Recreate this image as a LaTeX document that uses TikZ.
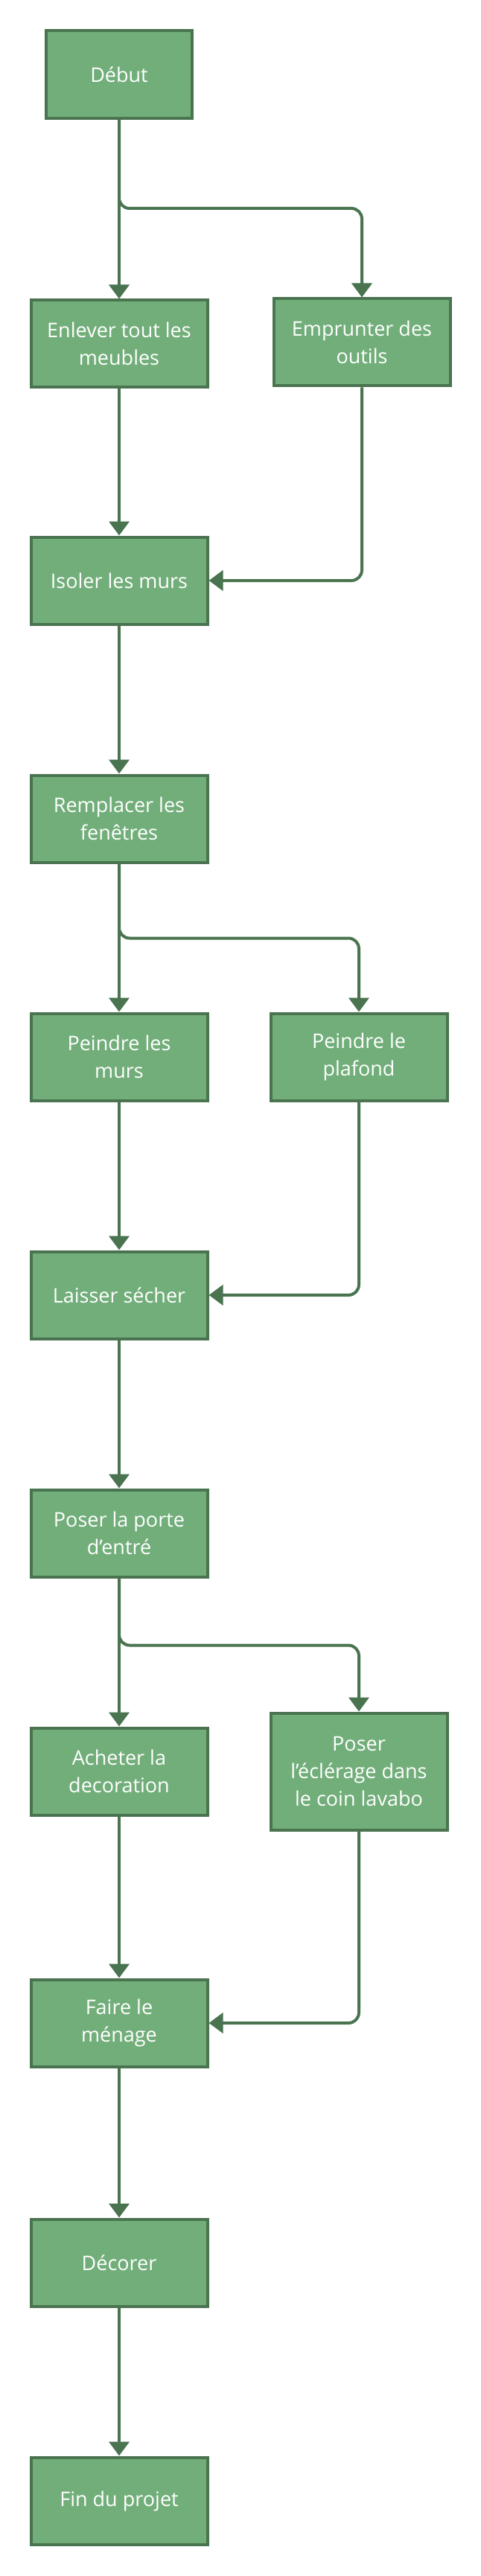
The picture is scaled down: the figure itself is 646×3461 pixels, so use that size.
\documentclass[tikz,border=0pt]{standalone}
\usepackage{fontspec}
\setmainfont{Open Sans}
\usetikzlibrary{arrows.meta}
\definecolor{vertfond}{HTML}{72AE7A}
\definecolor{vertbord}{HTML}{4A7450}
\tikzset{
  task/.style={draw=vertbord, fill=vertfond, line width=2pt, text=white, align=center,
    minimum width=118.5pt, minimum height=58.5pt, inner sep=0pt,
    font=\fontsize{13.5pt}{18.3pt}\selectfont},
  link/.style={draw=vertbord, line width=2pt, rounded corners=7pt,
    -{Triangle[length=9.5pt,width=13.5pt]}}
}
\begin{document}
\begin{tikzpicture}[x=0.5pt,y=-0.5pt]
   \useasboundingbox (0,0) rectangle (646,3461);

   \node[task, minimum width=98pt, minimum height=59pt] (debut) at (160,100) {Début};
   \node[task] (enlever) at (160,462) {Enlever tout les\\meubles};
   \node[task] (emprunter) at (486,460) {Emprunter des\\outils};
   \node[task] (isoler) at (160,780) {Isoler les murs};
   \node[task] (remplacer) at (160,1100) {Remplacer les\\fenêtres};
   \node[task] (murs) at (160,1420) {Peindre les\\murs};
   \node[task] (plafond) at (482,1420) {Peindre le\\plafond};
   \node[task] (secher) at (160,1740) {Laisser sécher};
   \node[task] (porte) at (160,2060) {Poser la porte\\d’entré};
   \node[task] (acheter) at (160,2380) {Acheter la\\decoration};
   \node[task, minimum height=78.5pt] (eclairage) at (482,2380) {Poser\\l’éclérage dans\\le coin lavabo};
   \node[task] (menage) at (160,2718) {Faire le\\ménage};
   \node[task] (decorer) at (160,3040) {Décorer};
   \node[task] (fin) at (160,3360) {Fin du projet};

      \draw[link] (debut) -- (enlever);
      \draw[link] (debut.south) -- ++(0,119) -| (emprunter.north);
      \draw[link] (enlever) -- (isoler);
      \draw[link] (emprunter.south) |- (isoler.east);
      \draw[link] (isoler) -- (remplacer);

      \draw[link] (remplacer) -- (murs);
      \draw[link] (remplacer.south) -- ++(0,100) -| (plafond.north);
      \draw[link] (murs) -- (secher);
      \draw[link] (plafond.south) |- (secher.east);
      \draw[link] (secher) -- (porte);

      \draw[link] (porte) -- (acheter);
      \draw[link] (porte.south) -- ++(0,90) -| (eclairage.north);
      \draw[link] (acheter) -- (menage);
      \draw[link] (eclairage.south) |- (menage.east);
      \draw[link] (menage) -- (decorer);
      \draw[link] (decorer) -- (fin);

\end{tikzpicture}
\end{document}
